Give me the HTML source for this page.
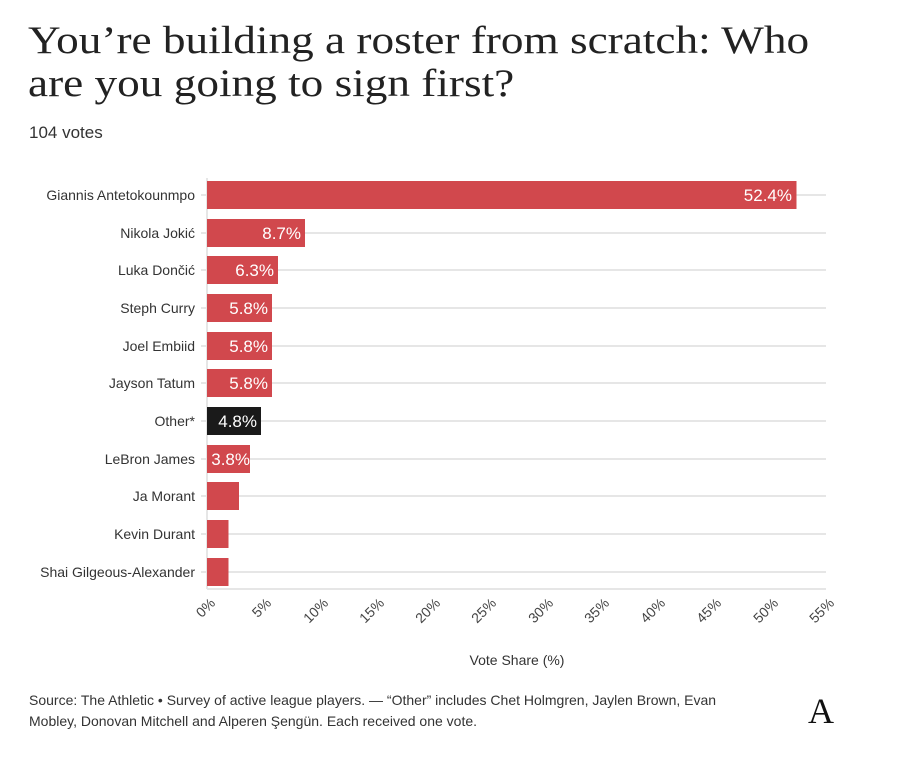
<!DOCTYPE html>
<html><head><meta charset="utf-8"><style>
body{margin:0;background:#fff;width:918px;height:757px;overflow:hidden;font-family:"Liberation Sans",sans-serif;color:#222}
.t{position:absolute;left:28px;top:19px;font-family:"Liberation Serif",serif;font-size:39px;line-height:43px;color:#222;width:760px;transform:scaleX(1.16);transform-origin:0 0;white-space:nowrap}
.v{position:absolute;left:29px;top:123px;font-size:17px;color:#333}
.src{position:absolute;left:29px;top:690px;font-size:14px;line-height:21px;color:#333;width:732px}
</style></head><body>
<div class="t">You’re building a roster from scratch: Who<br>are you going to sign first?</div>
<div class="v">104 votes</div>
<svg width="918" height="757" style="position:absolute;left:0;top:0" font-family="Liberation Sans, sans-serif">
<g stroke="#e6e6e6" stroke-width="2">
<line x1="201" x2="826" y1="195" y2="195"/><line x1="201" x2="826" y1="233" y2="233"/><line x1="201" x2="826" y1="270" y2="270"/><line x1="201" x2="826" y1="308" y2="308"/><line x1="201" x2="826" y1="346" y2="346"/><line x1="201" x2="826" y1="383" y2="383"/><line x1="201" x2="826" y1="421" y2="421"/><line x1="201" x2="826" y1="459" y2="459"/><line x1="201" x2="826" y1="496" y2="496"/><line x1="201" x2="826" y1="534" y2="534"/><line x1="201" x2="826" y1="572" y2="572"/>
<line x1="207" x2="207" y1="178" y2="589"/>
<line x1="207" x2="826" y1="589" y2="589"/>
</g>
<g fill="#d1484d">
<rect x="207" y="181" width="589.5" height="28"/>
<rect x="207" y="219" width="98" height="28"/>
<rect x="207" y="256" width="71" height="28"/>
<rect x="207" y="294" width="65" height="28"/>
<rect x="207" y="332" width="65" height="28"/>
<rect x="207" y="369" width="65" height="28"/>
<rect x="207" y="445" width="43" height="28"/>
<rect x="207" y="482" width="32" height="28"/>
<rect x="207" y="520" width="21.5" height="28"/>
<rect x="207" y="558" width="21.5" height="28"/>
</g>
<rect x="207" y="407" width="54" height="28" fill="#1a1a1a"/>
<g fill="#fff" font-size="17" text-anchor="end">
<text x="792" y="201">52.4%</text><text x="301" y="239">8.7%</text><text x="274" y="276">6.3%</text><text x="268" y="314">5.8%</text><text x="268" y="352">5.8%</text><text x="268" y="389">5.8%</text><text x="257" y="427">4.8%</text><text x="250" y="465">3.8%</text>
</g>
<g fill="#333" font-size="14" text-anchor="end">
<text x="195" y="200">Giannis Antetokounmpo</text><text x="195" y="238">Nikola Jokić</text><text x="195" y="275">Luka Dončić</text><text x="195" y="313">Steph Curry</text><text x="195" y="351">Joel Embiid</text><text x="195" y="388">Jayson Tatum</text><text x="195" y="426">Other*</text><text x="195" y="464">LeBron James</text><text x="195" y="501">Ja Morant</text><text x="195" y="539">Kevin Durant</text><text x="195" y="577">Shai Gilgeous-Alexander</text>
</g>
<g fill="#444" font-size="14" text-anchor="end">
<text transform="translate(216,604) rotate(-45)">0%</text>
<text transform="translate(272,604) rotate(-45)">5%</text>
<text transform="translate(329,604) rotate(-45)">10%</text>
<text transform="translate(385,604) rotate(-45)">15%</text>
<text transform="translate(441,604) rotate(-45)">20%</text>
<text transform="translate(497,604) rotate(-45)">25%</text>
<text transform="translate(554,604) rotate(-45)">30%</text>
<text transform="translate(610,604) rotate(-45)">35%</text>
<text transform="translate(666,604) rotate(-45)">40%</text>
<text transform="translate(722,604) rotate(-45)">45%</text>
<text transform="translate(779,604) rotate(-45)">50%</text>
<text transform="translate(835,604) rotate(-45)">55%</text>
</g>
<text x="517" y="665" font-size="14" fill="#333" text-anchor="middle">Vote Share (%)</text>
<text x="821" y="723" font-family="Liberation Serif, serif" font-size="36" fill="#111" text-anchor="middle">A</text>
</svg>
<div class="src">Source: The Athletic • Survey of active league players. — “Other” includes Chet Holmgren, Jaylen Brown, Evan Mobley, Donovan Mitchell and Alperen Şengün. Each received one vote.</div>
</body></html>
